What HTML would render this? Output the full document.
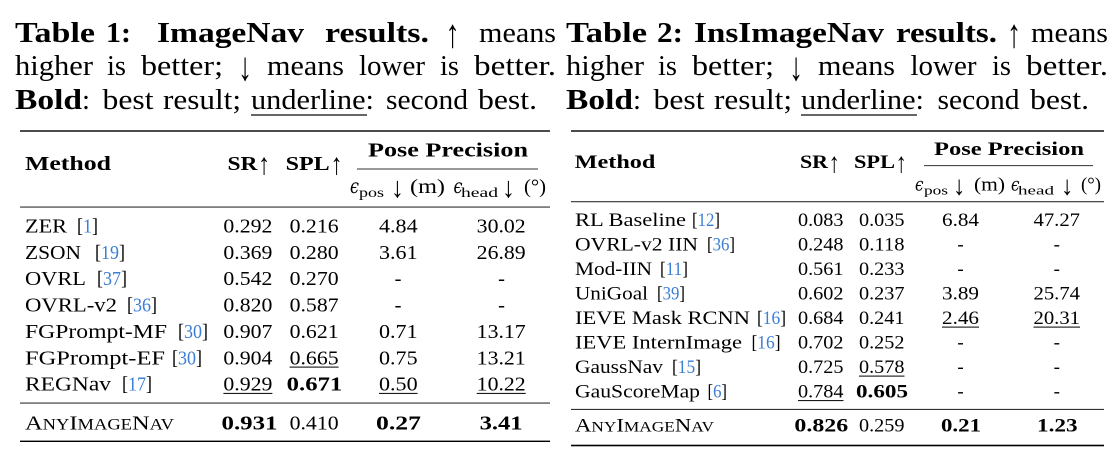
<!DOCTYPE html>
<html><head><meta charset="utf-8"><style>
html,body{margin:0;padding:0;background:#fff;}
svg{display:block;}
text{font-family:"Liberation Serif","DejaVu Serif",serif;fill:#000;}
.b{font-weight:bold;}
.c{fill:#3a7fd5;}
.e{font-style:italic;font-family:"DejaVu Serif","Liberation Serif",serif;}
</style></head><body>
<svg width="1113" height="454" viewBox="0 0 1113 454" xmlns="http://www.w3.org/2000/svg">
<!-- ===== LEFT CAPTION ===== -->
<g font-size="28">
<text class="b" x="15" y="42" textLength="80" lengthAdjust="spacingAndGlyphs">Table</text>
<text class="b" x="106" y="42" textLength="25" lengthAdjust="spacingAndGlyphs">1:</text>
<text class="b" x="157" y="42" textLength="147" lengthAdjust="spacingAndGlyphs">ImageNav</text>
<text class="b" x="325" y="42" textLength="104" lengthAdjust="spacingAndGlyphs">results.</text>
<text x="445.5" y="47" font-size="40" textLength="14" lengthAdjust="spacingAndGlyphs">↑</text>
<text x="479" y="42" textLength="77" lengthAdjust="spacingAndGlyphs">means</text>

<text x="15" y="75" textLength="78" lengthAdjust="spacingAndGlyphs">higher</text>
<text x="107" y="75" textLength="19" lengthAdjust="spacingAndGlyphs">is</text>
<text x="141" y="75" textLength="82" lengthAdjust="spacingAndGlyphs">better;</text>
<text x="238" y="80" font-size="40" textLength="14" lengthAdjust="spacingAndGlyphs">↓</text>
<text x="267" y="75" textLength="77" lengthAdjust="spacingAndGlyphs">means</text>
<text x="359" y="75" textLength="66" lengthAdjust="spacingAndGlyphs">lower</text>
<text x="440" y="75" textLength="19" lengthAdjust="spacingAndGlyphs">is</text>
<text x="474" y="75" textLength="82" lengthAdjust="spacingAndGlyphs">better.</text>

<text class="b" x="15" y="109" textLength="67" lengthAdjust="spacingAndGlyphs">Bold</text>
<text x="82" y="109" textLength="8" lengthAdjust="spacingAndGlyphs">:</text>
<text x="102.5" y="109" textLength="51" lengthAdjust="spacingAndGlyphs">best</text>
<text x="163" y="109" textLength="78" lengthAdjust="spacingAndGlyphs">result;</text>
<text x="251" y="109" textLength="123" lengthAdjust="spacingAndGlyphs">underline:</text>
<text x="386" y="109" textLength="82" lengthAdjust="spacingAndGlyphs">second</text>
<text x="478" y="109" textLength="59" lengthAdjust="spacingAndGlyphs">best.</text>
</g>
<rect x="251" y="114.4" width="116" height="1.2" fill="#000"/>

<!-- ===== RIGHT CAPTION ===== -->
<g font-size="28">
<text class="b" x="566" y="42" textLength="81" lengthAdjust="spacingAndGlyphs">Table</text>
<text class="b" x="657" y="42" textLength="26" lengthAdjust="spacingAndGlyphs">2:</text>
<text class="b" x="694" y="42" textLength="190" lengthAdjust="spacingAndGlyphs">InsImageNav</text>
<text class="b" x="896" y="42" textLength="101" lengthAdjust="spacingAndGlyphs">results.</text>
<text x="1007" y="47" font-size="40" textLength="14" lengthAdjust="spacingAndGlyphs">↑</text>
<text x="1031" y="42" textLength="77" lengthAdjust="spacingAndGlyphs">means</text>

<text x="566" y="75" textLength="78" lengthAdjust="spacingAndGlyphs">higher</text>
<text x="658" y="75" textLength="19" lengthAdjust="spacingAndGlyphs">is</text>
<text x="692" y="75" textLength="82" lengthAdjust="spacingAndGlyphs">better;</text>
<text x="789" y="80" font-size="40" textLength="14" lengthAdjust="spacingAndGlyphs">↓</text>
<text x="818" y="75" textLength="77" lengthAdjust="spacingAndGlyphs">means</text>
<text x="910.5" y="75" textLength="66" lengthAdjust="spacingAndGlyphs">lower</text>
<text x="992" y="75" textLength="19" lengthAdjust="spacingAndGlyphs">is</text>
<text x="1026" y="75" textLength="82" lengthAdjust="spacingAndGlyphs">better.</text>

<text class="b" x="566" y="109" textLength="67" lengthAdjust="spacingAndGlyphs">Bold</text>
<text x="633" y="109" textLength="8" lengthAdjust="spacingAndGlyphs">:</text>
<text x="653.5" y="109" textLength="51" lengthAdjust="spacingAndGlyphs">best</text>
<text x="714" y="109" textLength="78" lengthAdjust="spacingAndGlyphs">result;</text>
<text x="801" y="109" textLength="123" lengthAdjust="spacingAndGlyphs">underline:</text>
<text x="937.5" y="109" textLength="82" lengthAdjust="spacingAndGlyphs">second</text>
<text x="1030" y="109" textLength="59" lengthAdjust="spacingAndGlyphs">best.</text>
</g>
<rect x="801" y="114.4" width="116" height="1.2" fill="#000"/>

<!-- ===== LEFT TABLE ===== -->
<rect x="20" y="130.3" width="530" height="1.4" fill="#000"/>
<rect x="357" y="168.6" width="181" height="0.8" fill="#000"/>
<rect x="20" y="206.6" width="530" height="0.9" fill="#000"/>
<rect x="20" y="402.6" width="530" height="0.9" fill="#000"/>
<rect x="20" y="440.6" width="530" height="1.4" fill="#000"/>

<g font-size="20.5">
<text class="b" x="25" y="170" textLength="86" lengthAdjust="spacingAndGlyphs">Method</text>
<text class="b" x="227.5" y="170" textLength="30" lengthAdjust="spacingAndGlyphs">SR</text>
<text x="258" y="174" font-size="30" textLength="12" lengthAdjust="spacingAndGlyphs">↑</text>
<text class="b" x="285.7" y="170" textLength="44" lengthAdjust="spacingAndGlyphs">SPL</text>
<text x="330.5" y="174" font-size="30" textLength="12" lengthAdjust="spacingAndGlyphs">↑</text>
<text class="b" x="368" y="156.7" textLength="160" lengthAdjust="spacingAndGlyphs">Pose Precision</text>

<text class="e" x="350" y="193" textLength="9" lengthAdjust="spacingAndGlyphs">ϵ</text>
<text x="359" y="197" font-size="14" textLength="25" lengthAdjust="spacingAndGlyphs">pos</text>
<text x="391" y="197" font-size="29" textLength="13" lengthAdjust="spacingAndGlyphs">↓</text>
<text x="410" y="193" textLength="35" lengthAdjust="spacingAndGlyphs">(m)</text>
<text class="e" x="453.5" y="193" textLength="9" lengthAdjust="spacingAndGlyphs">ϵ</text>
<text x="461" y="197" font-size="14" textLength="37" lengthAdjust="spacingAndGlyphs">head</text>
<text x="502" y="197" font-size="29" textLength="13" lengthAdjust="spacingAndGlyphs">↓</text>
<text x="524" y="193" textLength="22" lengthAdjust="spacingAndGlyphs">(°)</text>

<!-- names -->
<text x="25" y="232.5" textLength="42" lengthAdjust="spacingAndGlyphs">ZER</text>
<text x="77" y="232.5" textLength="21" lengthAdjust="spacingAndGlyphs">[<tspan class="c">1</tspan>]</text>
<text x="25" y="258.9" textLength="56" lengthAdjust="spacingAndGlyphs">ZSON</text>
<text x="95" y="258.9" textLength="30" lengthAdjust="spacingAndGlyphs">[<tspan class="c">19</tspan>]</text>
<text x="25" y="285.2" textLength="61" lengthAdjust="spacingAndGlyphs">OVRL</text>
<text x="97" y="285.2" textLength="30" lengthAdjust="spacingAndGlyphs">[<tspan class="c">37</tspan>]</text>
<text x="25" y="311.6" textLength="92" lengthAdjust="spacingAndGlyphs">OVRL-v2</text>
<text x="127" y="311.6" textLength="30" lengthAdjust="spacingAndGlyphs">[<tspan class="c">36</tspan>]</text>
<text x="25" y="337.9" textLength="142" lengthAdjust="spacingAndGlyphs">FGPrompt-MF</text>
<text x="178" y="337.9" textLength="30" lengthAdjust="spacingAndGlyphs">[<tspan class="c">30</tspan>]</text>
<text x="25" y="364.3" textLength="140" lengthAdjust="spacingAndGlyphs">FGPrompt-EF</text>
<text x="172" y="364.3" textLength="30" lengthAdjust="spacingAndGlyphs">[<tspan class="c">30</tspan>]</text>
<text x="25" y="390.6" textLength="86" lengthAdjust="spacingAndGlyphs">REGNav</text>
<text x="122" y="390.6" textLength="30" lengthAdjust="spacingAndGlyphs">[<tspan class="c">17</tspan>]</text>
<text x="25" y="429.3" textLength="149" lengthAdjust="spacingAndGlyphs">A<tspan font-size="15.5">NY</tspan>I<tspan font-size="15.5">MAGE</tspan>N<tspan font-size="15.5">AV</tspan></text>

<!-- SR -->
<text x="223.4" y="232.5" textLength="49" lengthAdjust="spacingAndGlyphs">0.292</text>
<text x="223.4" y="258.9" textLength="49" lengthAdjust="spacingAndGlyphs">0.369</text>
<text x="223.4" y="285.2" textLength="49" lengthAdjust="spacingAndGlyphs">0.542</text>
<text x="223.4" y="311.6" textLength="49" lengthAdjust="spacingAndGlyphs">0.820</text>
<text x="223.4" y="337.9" textLength="49" lengthAdjust="spacingAndGlyphs">0.907</text>
<text x="223.4" y="364.3" textLength="49" lengthAdjust="spacingAndGlyphs">0.904</text>
<text x="223.4" y="390.6" textLength="49" lengthAdjust="spacingAndGlyphs">0.929</text>
<text class="b" x="221.5" y="429.3" textLength="56" lengthAdjust="spacingAndGlyphs">0.931</text>
<!-- SPL -->
<text x="289.6" y="232.5" textLength="49" lengthAdjust="spacingAndGlyphs">0.216</text>
<text x="289.6" y="258.9" textLength="49" lengthAdjust="spacingAndGlyphs">0.280</text>
<text x="289.6" y="285.2" textLength="49" lengthAdjust="spacingAndGlyphs">0.270</text>
<text x="289.6" y="311.6" textLength="49" lengthAdjust="spacingAndGlyphs">0.587</text>
<text x="289.6" y="337.9" textLength="49" lengthAdjust="spacingAndGlyphs">0.621</text>
<text x="289.6" y="364.3" textLength="49" lengthAdjust="spacingAndGlyphs">0.665</text>
<text class="b" x="286.7" y="390.6" textLength="55.6" lengthAdjust="spacingAndGlyphs">0.671</text>
<text x="289.6" y="429.3" textLength="49" lengthAdjust="spacingAndGlyphs">0.410</text>
<!-- pos -->
<text x="379" y="232.5" textLength="38.6" lengthAdjust="spacingAndGlyphs">4.84</text>
<text x="379" y="258.9" textLength="38.6" lengthAdjust="spacingAndGlyphs">3.61</text>
<text x="398" y="285.2" text-anchor="middle">-</text>
<text x="398" y="311.6" text-anchor="middle">-</text>
<text x="379" y="337.9" textLength="38.6" lengthAdjust="spacingAndGlyphs">0.71</text>
<text x="379" y="364.3" textLength="38.6" lengthAdjust="spacingAndGlyphs">0.75</text>
<text x="379" y="390.6" textLength="38.6" lengthAdjust="spacingAndGlyphs">0.50</text>
<text class="b" x="376" y="429.3" textLength="45" lengthAdjust="spacingAndGlyphs">0.27</text>
<!-- head -->
<text x="476.7" y="232.5" textLength="49" lengthAdjust="spacingAndGlyphs">30.02</text>
<text x="476.7" y="258.9" textLength="49" lengthAdjust="spacingAndGlyphs">26.89</text>
<text x="501.5" y="285.2" text-anchor="middle">-</text>
<text x="501.5" y="311.6" text-anchor="middle">-</text>
<text x="476.7" y="337.9" textLength="49" lengthAdjust="spacingAndGlyphs">13.17</text>
<text x="476.7" y="364.3" textLength="49" lengthAdjust="spacingAndGlyphs">13.21</text>
<text x="476.7" y="390.6" textLength="49" lengthAdjust="spacingAndGlyphs">10.22</text>
<text class="b" x="479.6" y="429.3" textLength="43" lengthAdjust="spacingAndGlyphs">3.41</text>
</g>
<!-- left underlines -->
<rect x="289.6" y="366.6" width="49" height="1" fill="#000"/>
<rect x="223.4" y="392.9" width="49" height="1" fill="#000"/>
<rect x="379" y="392.9" width="38.6" height="1" fill="#000"/>
<rect x="476.7" y="392.9" width="49" height="1" fill="#000"/>

<!-- ===== RIGHT TABLE ===== -->
<rect x="571" y="130.3" width="533" height="1.4" fill="#000"/>
<rect x="924" y="165.3" width="169" height="0.8" fill="#000"/>
<rect x="571" y="201.3" width="533" height="0.9" fill="#000"/>
<rect x="571" y="408.9" width="533" height="0.9" fill="#000"/>
<rect x="571" y="444.7" width="533" height="1.6" fill="#000"/>

<g font-size="19">
<text class="b" x="574.7" y="168" textLength="80.7" lengthAdjust="spacingAndGlyphs">Method</text>
<text class="b" x="800" y="168" textLength="28" lengthAdjust="spacingAndGlyphs">SR</text>
<text x="828.5" y="172" font-size="28" textLength="11.5" lengthAdjust="spacingAndGlyphs">↑</text>
<text class="b" x="854" y="168" textLength="41" lengthAdjust="spacingAndGlyphs">SPL</text>
<text x="895.5" y="172" font-size="28" textLength="11.5" lengthAdjust="spacingAndGlyphs">↑</text>
<text class="b" x="934" y="155" textLength="150" lengthAdjust="spacingAndGlyphs">Pose Precision</text>

<text class="e" x="915" y="190.5" textLength="8.5" lengthAdjust="spacingAndGlyphs">ϵ</text>
<text x="924" y="194.5" font-size="13" textLength="24" lengthAdjust="spacingAndGlyphs">pos</text>
<text x="953" y="194.5" font-size="27" textLength="12.5" lengthAdjust="spacingAndGlyphs">↓</text>
<text x="974" y="190.5" textLength="31" lengthAdjust="spacingAndGlyphs">(m)</text>
<text class="e" x="1011" y="190.5" textLength="8.5" lengthAdjust="spacingAndGlyphs">ϵ</text>
<text x="1018" y="194.5" font-size="13" textLength="36" lengthAdjust="spacingAndGlyphs">head</text>
<text x="1061" y="194.5" font-size="27" textLength="12.5" lengthAdjust="spacingAndGlyphs">↓</text>
<text x="1081" y="190.5" textLength="20" lengthAdjust="spacingAndGlyphs">(°)</text>

<!-- names -->
<text x="575" y="226" textLength="111" lengthAdjust="spacingAndGlyphs">RL Baseline</text>
<text x="692" y="226" textLength="28" lengthAdjust="spacingAndGlyphs">[<tspan class="c">12</tspan>]</text>
<text x="575" y="250.5" textLength="123" lengthAdjust="spacingAndGlyphs">OVRL-v2 IIN</text>
<text x="707" y="250.5" textLength="28" lengthAdjust="spacingAndGlyphs">[<tspan class="c">36</tspan>]</text>
<text x="575" y="275" textLength="77" lengthAdjust="spacingAndGlyphs">Mod-IIN</text>
<text x="660" y="275" textLength="28" lengthAdjust="spacingAndGlyphs">[<tspan class="c">11</tspan>]</text>
<text x="575" y="299.5" textLength="73" lengthAdjust="spacingAndGlyphs">UniGoal</text>
<text x="657" y="299.5" textLength="28" lengthAdjust="spacingAndGlyphs">[<tspan class="c">39</tspan>]</text>
<text x="575" y="324" textLength="175" lengthAdjust="spacingAndGlyphs">IEVE Mask RCNN</text>
<text x="757" y="324" textLength="29" lengthAdjust="spacingAndGlyphs">[<tspan class="c">16</tspan>]</text>
<text x="575" y="348.5" textLength="167" lengthAdjust="spacingAndGlyphs">IEVE InternImage</text>
<text x="751.5" y="348.5" textLength="29" lengthAdjust="spacingAndGlyphs">[<tspan class="c">16</tspan>]</text>
<text x="575" y="373" textLength="88" lengthAdjust="spacingAndGlyphs">GaussNav</text>
<text x="672" y="373" textLength="29" lengthAdjust="spacingAndGlyphs">[<tspan class="c">15</tspan>]</text>
<text x="575" y="397.5" textLength="125" lengthAdjust="spacingAndGlyphs">GauScoreMap</text>
<text x="707.5" y="397.5" textLength="19.5" lengthAdjust="spacingAndGlyphs">[<tspan class="c">6</tspan>]</text>
<text x="575" y="431.7" textLength="139" lengthAdjust="spacingAndGlyphs">A<tspan font-size="14.5">NY</tspan>I<tspan font-size="14.5">MAGE</tspan>N<tspan font-size="14.5">AV</tspan></text>

<!-- SR -->
<text x="798" y="226" textLength="45.5" lengthAdjust="spacingAndGlyphs">0.083</text>
<text x="798" y="250.5" textLength="45.5" lengthAdjust="spacingAndGlyphs">0.248</text>
<text x="798" y="275" textLength="45.5" lengthAdjust="spacingAndGlyphs">0.561</text>
<text x="798" y="299.5" textLength="45.5" lengthAdjust="spacingAndGlyphs">0.602</text>
<text x="798" y="324" textLength="45.5" lengthAdjust="spacingAndGlyphs">0.684</text>
<text x="798" y="348.5" textLength="45.5" lengthAdjust="spacingAndGlyphs">0.702</text>
<text x="798" y="373" textLength="45.5" lengthAdjust="spacingAndGlyphs">0.725</text>
<text x="798" y="397.5" textLength="45.5" lengthAdjust="spacingAndGlyphs">0.784</text>
<text class="b" x="794.4" y="431.7" textLength="53.8" lengthAdjust="spacingAndGlyphs">0.826</text>
<!-- SPL -->
<text x="859" y="226" textLength="45.5" lengthAdjust="spacingAndGlyphs">0.035</text>
<text x="859" y="250.5" textLength="45.5" lengthAdjust="spacingAndGlyphs">0.118</text>
<text x="859" y="275" textLength="45.5" lengthAdjust="spacingAndGlyphs">0.233</text>
<text x="859" y="299.5" textLength="45.5" lengthAdjust="spacingAndGlyphs">0.237</text>
<text x="859" y="324" textLength="45.5" lengthAdjust="spacingAndGlyphs">0.241</text>
<text x="859" y="348.5" textLength="45.5" lengthAdjust="spacingAndGlyphs">0.252</text>
<text x="859" y="373" textLength="45.5" lengthAdjust="spacingAndGlyphs">0.578</text>
<text class="b" x="856" y="397.5" textLength="52" lengthAdjust="spacingAndGlyphs">0.605</text>
<text x="859" y="431.7" textLength="45.5" lengthAdjust="spacingAndGlyphs">0.259</text>
<!-- pos -->
<text x="942" y="226" textLength="37" lengthAdjust="spacingAndGlyphs">6.84</text>
<text x="960.5" y="250.5" text-anchor="middle">-</text>
<text x="960.5" y="275" text-anchor="middle">-</text>
<text x="942" y="299.5" textLength="37" lengthAdjust="spacingAndGlyphs">3.89</text>
<text x="942" y="324" textLength="37" lengthAdjust="spacingAndGlyphs">2.46</text>
<text x="960.5" y="348.5" text-anchor="middle">-</text>
<text x="960.5" y="373" text-anchor="middle">-</text>
<text x="960.5" y="397.5" text-anchor="middle">-</text>
<text class="b" x="941" y="431.7" textLength="40" lengthAdjust="spacingAndGlyphs">0.21</text>
<!-- head -->
<text x="1033.5" y="226" textLength="46.5" lengthAdjust="spacingAndGlyphs">47.27</text>
<text x="1056.8" y="250.5" text-anchor="middle">-</text>
<text x="1056.8" y="275" text-anchor="middle">-</text>
<text x="1033.5" y="299.5" textLength="46.5" lengthAdjust="spacingAndGlyphs">25.74</text>
<text x="1033.5" y="324" textLength="46.5" lengthAdjust="spacingAndGlyphs">20.31</text>
<text x="1056.8" y="348.5" text-anchor="middle">-</text>
<text x="1056.8" y="373" text-anchor="middle">-</text>
<text x="1056.8" y="397.5" text-anchor="middle">-</text>
<text class="b" x="1037" y="431.7" textLength="40.6" lengthAdjust="spacingAndGlyphs">1.23</text>
</g>
<!-- right underlines -->
<rect x="942" y="326.6" width="37" height="1" fill="#000"/>
<rect x="1033.5" y="326.6" width="46.5" height="1" fill="#000"/>
<rect x="859" y="375.6" width="45.5" height="1" fill="#000"/>
<rect x="798" y="400.1" width="45.5" height="1" fill="#000"/>
</svg>
</body></html>
